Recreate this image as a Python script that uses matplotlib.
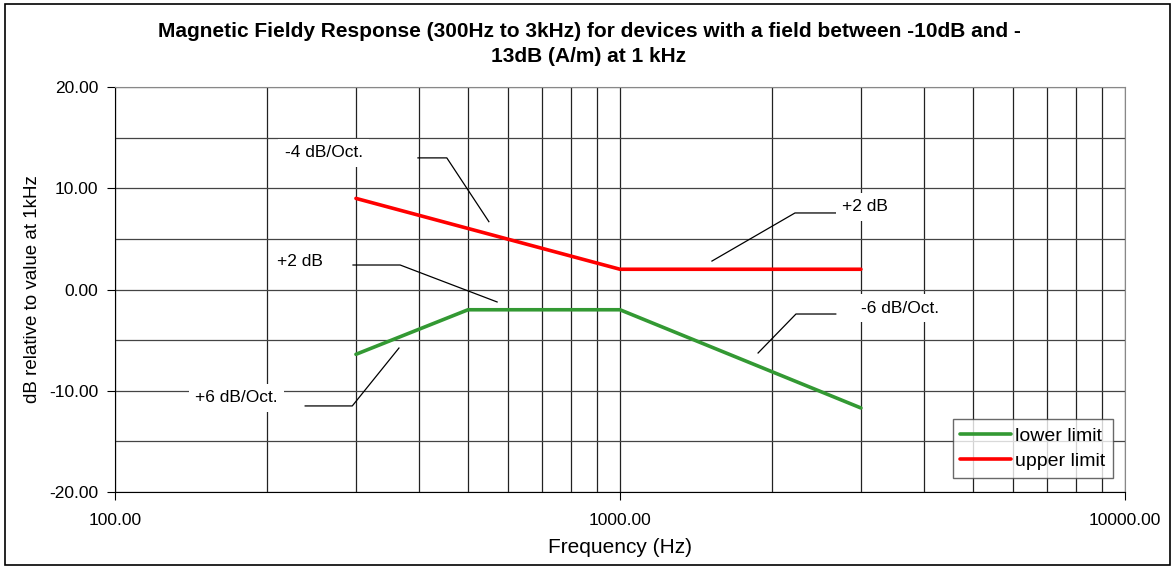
import numpy as np
import matplotlib
matplotlib.use("Agg")
from matplotlib import pyplot as plt
from matplotlib.patches import Rectangle
from matplotlib.ticker import FixedLocator, NullFormatter

plt.rcParams['font.family'] = ['Liberation Sans', 'DejaVu Sans']

# limit curves (Hz, dB relative to 1 kHz)
upper_freq = [300, 1000, 3000]
upper_db = [9.0, 2.0, 2.0]
lower_freq = [300, 500, 1000, 3000]
lower_db = [-6.4, -2.0, -2.0, -11.7]

# annotations: text, text position, leader polyline
notes = [
    ("-4 dB/Oct.", (259, 13.5), [(398, 13.0), (454, 13.0), (550, 6.7)]),
    ("+2 dB", (3055, 8.15), [(2690, 7.56), (2221, 7.56), (1521, 2.81)]),
    ("-6 dB/Oct.", (3581, -1.83), [(2675, -2.42), (2231, -2.42), (1877, -6.27)]),
    ("+2 dB", (232, 2.72), [(296, 2.42), (367, 2.42), (571, -1.23)]),
    ("+6 dB/Oct.", (174, -10.7), [(238, -11.5), (295, -11.5), (365, -5.78)]),
]

fig = plt.figure(figsize=(11.75, 5.68), dpi=100)
ax = fig.add_axes([0.0979, 0.1338, 0.8595, 0.713])

ax.set_xscale('log')
ax.set_xlim(100, 10000)
ax.set_ylim(-20, 20)

minor = [m * 10**d for d in (2, 3) for m in range(2, 10)]
ax.xaxis.set_minor_locator(FixedLocator(minor))
ax.xaxis.set_minor_formatter(NullFormatter())
ax.set_xticks([100, 1000, 10000])
ax.set_xticklabels(['100.00', '1000.00', '10000.00'])
ax.set_yticks([-20, -10, 0, 10, 20])
ax.set_yticklabels(['%.2f' % v for v in [-20, -10, 0, 10, 20]])
ax.yaxis.set_minor_locator(FixedLocator([-15, -5, 5, 15]))
ax.tick_params(which='major', direction='out', length=6, labelsize=12.5, color='black')
ax.tick_params(axis='x', which='major', pad=9)
ax.tick_params(axis='y', which='major', pad=6)
ax.tick_params(which='minor', length=0)

ax.grid(True, which='both', axis='x', color='#222222', lw=0.9)
ax.grid(True, which='both', axis='y', color='#444444', lw=0.9)
ax.set_axisbelow(True)
for s in ('top', 'right'):
    ax.spines[s].set_color('#888888')
for s in ('left', 'bottom'):
    ax.spines[s].set_color('black')

ax.plot(lower_freq, lower_db, color='#339933', lw=2.6, label='lower limit', solid_capstyle='round', zorder=3)
ax.plot(upper_freq, upper_db, color='#ff0000', lw=2.6, label='upper limit', solid_capstyle='round', zorder=3)

for txt, pos, line in notes:
    xs, ys = zip(*line)
    ax.plot(xs, ys, color='black', lw=0.9, zorder=4)
    ax.text(pos[0], pos[1], txt, ha='center', va='center', fontsize=12.5, zorder=5,
            bbox=dict(facecolor='white', edgecolor='none', pad=4.5))

ax.set_xlabel('Frequency (Hz)', fontsize=15, labelpad=7)
ax.set_ylabel('dB relative to value at 1kHz', fontsize=13.5, labelpad=6)
fig.text(589 / 1175, 1 - 44 / 568,
         'Magnetic Fieldy Response (300Hz to 3kHz) for devices with a field between -10dB and -\n13dB (A/m) at 1 kHz',
         ha='center', va='center', multialignment='center', fontsize=15, fontweight='bold', linespacing=1.45)

leg = ax.legend(loc='lower right', bbox_to_anchor=(0.988, 0.035), fontsize=14, frameon=True, fancybox=False,
                edgecolor='#444444', handlelength=2.6, handletextpad=0.2, borderpad=0.4, labelspacing=0.4,
                borderaxespad=0)
leg.get_frame().set_linewidth(1.0)

fig.patches.append(Rectangle((5 / 1175, 3 / 568), 1165 / 1175, 561 / 568, transform=fig.transFigure,
                             fill=False, edgecolor='black', lw=1.2))

fig.savefig('out.png', dpi=100)
